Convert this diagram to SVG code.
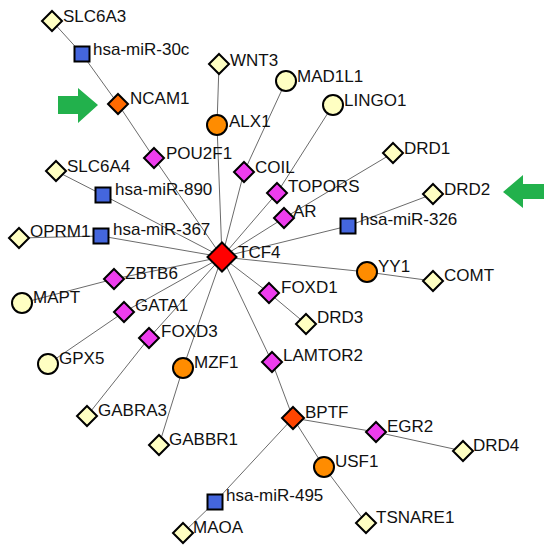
<svg xmlns="http://www.w3.org/2000/svg" xmlns:xlink="http://www.w3.org/1999/xlink" width="550" height="548" viewBox="0 0 550 548">
<style>
  .e { stroke: #6b6b6b; stroke-width: 1; fill: none; }
  .n { stroke: #000; stroke-width: 2; }
  .y { fill: #FFFFC2; }
  .m { fill: #EE3DEE; }
  .b { fill: #4466DD; }
  .o { fill: #FF8C00; }
  .t { font-family: "Liberation Sans", Arial, sans-serif; font-size: 17px; fill: #111; }
  .arrow { fill: #22B14C; }
</style>
<defs>
  <polygon id="dia" points="0,-10 10,0 0,10 -10,0"/>
  <rect id="sq" x="-7.5" y="-7.5" width="15" height="15"/>
  <circle id="cir" r="10"/>
</defs>
<rect width="550" height="548" fill="#fff"/>
<g id="connectors">
  <line class="e" x1="52" y1="21" x2="82" y2="54"/>
  <line class="e" x1="82" y1="54" x2="118" y2="104"/>
  <line class="e" x1="118" y1="104" x2="154" y2="158"/>
  <line class="e" x1="154" y1="158" x2="222" y2="257"/>
  <line class="e" x1="219" y1="64" x2="217" y2="125"/>
  <line class="e" x1="217" y1="125" x2="222" y2="257"/>
  <line class="e" x1="286" y1="81" x2="244" y2="172"/>
  <line class="e" x1="244" y1="172" x2="222" y2="257"/>
  <line class="e" x1="333" y1="105" x2="277" y2="193"/>
  <line class="e" x1="277" y1="193" x2="222" y2="257"/>
  <line class="e" x1="393" y1="153" x2="284" y2="218"/>
  <line class="e" x1="284" y1="218" x2="222" y2="257"/>
  <line class="e" x1="433" y1="194" x2="348" y2="226"/>
  <line class="e" x1="348" y1="226" x2="222" y2="257"/>
  <line class="e" x1="433" y1="281" x2="367" y2="272"/>
  <line class="e" x1="367" y1="272" x2="222" y2="257"/>
  <line class="e" x1="306" y1="324" x2="269" y2="293"/>
  <line class="e" x1="269" y1="293" x2="222" y2="257"/>
  <line class="e" x1="272" y1="362" x2="222" y2="257"/>
  <line class="e" x1="293" y1="418" x2="272" y2="362"/>
  <line class="e" x1="293" y1="418" x2="376" y2="432"/>
  <line class="e" x1="376" y1="432" x2="463" y2="451"/>
  <line class="e" x1="293" y1="418" x2="324" y2="467"/>
  <line class="e" x1="324" y1="467" x2="366" y2="523"/>
  <line class="e" x1="293" y1="418" x2="215" y2="502"/>
  <line class="e" x1="215" y1="502" x2="183" y2="533"/>
  <line class="e" x1="183" y1="368" x2="222" y2="257"/>
  <line class="e" x1="159" y1="445" x2="183" y2="368"/>
  <line class="e" x1="87" y1="416" x2="149" y2="338"/>
  <line class="e" x1="149" y1="338" x2="222" y2="257"/>
  <line class="e" x1="48" y1="364" x2="124" y2="312"/>
  <line class="e" x1="124" y1="312" x2="222" y2="257"/>
  <line class="e" x1="22" y1="303" x2="114" y2="279"/>
  <line class="e" x1="114" y1="279" x2="222" y2="257"/>
  <line class="e" x1="19" y1="238" x2="101" y2="236"/>
  <line class="e" x1="101" y1="236" x2="222" y2="257"/>
  <line class="e" x1="56" y1="171" x2="103" y2="195"/>
  <line class="e" x1="103" y1="195" x2="222" y2="257"/>
</g>
<g id="arrows">
  <polygon class="arrow" points="58,96 78,96 78,88 98,105 78,123 78,114 58,114"/>
  <polygon class="arrow" points="544,184 523,184 523,175 503,192 523,208 523,199 544,199"/>
</g>
<g id="SLC6A3"><use href="#dia" class="n y" x="52" y="21"/><text class="t" x="63" y="22">SLC6A3</text></g>
<g id="hsa-miR-30c"><use href="#sq" class="n b" x="82" y="54"/><text class="t" x="93" y="55">hsa-miR-30c</text></g>
<g id="NCAM1"><use href="#dia" class="n" fill="#FF6A00" x="118" y="104"/><text class="t" x="130" y="104">NCAM1</text></g>
<g id="WNT3"><use href="#dia" class="n y" x="219" y="64"/><text class="t" x="230" y="66">WNT3</text></g>
<g id="ALX1"><use href="#cir" class="n o" x="217" y="125"/><text class="t" x="229" y="127">ALX1</text></g>
<g id="MAD1L1"><use href="#cir" class="n y" x="286" y="81"/><text class="t" x="297" y="82">MAD1L1</text></g>
<g id="LINGO1"><use href="#cir" class="n y" x="333" y="105"/><text class="t" x="344" y="106">LINGO1</text></g>
<g id="POU2F1"><use href="#dia" class="n m" x="154" y="158"/><text class="t" x="166" y="159">POU2F1</text></g>
<g id="COIL"><use href="#dia" class="n m" x="244" y="172"/><text class="t" x="255" y="173">COIL</text></g>
<g id="DRD1"><use href="#dia" class="n y" x="393" y="153"/><text class="t" x="404" y="154">DRD1</text></g>
<g id="SLC6A4"><use href="#dia" class="n y" x="56" y="171"/><text class="t" x="67" y="172">SLC6A4</text></g>
<g id="TOPORS"><use href="#dia" class="n m" x="277" y="193"/><text class="t" x="288" y="192">TOPORS</text></g>
<g id="AR"><use href="#dia" class="n m" x="284" y="218"/><text class="t" x="293" y="217">AR</text></g>
<g id="DRD2"><use href="#dia" class="n y" x="433" y="194"/><text class="t" x="444" y="195">DRD2</text></g>
<g id="hsa-miR-890"><use href="#sq" class="n b" x="103" y="195"/><text class="t" x="115" y="195">hsa-miR-890</text></g>
<g id="hsa-miR-326"><use href="#sq" class="n b" x="348" y="226"/><text class="t" x="360" y="225">hsa-miR-326</text></g>
<g id="OPRM1"><use href="#dia" class="n y" x="19" y="238"/><text class="t" x="30" y="237">OPRM1</text></g>
<g id="hsa-miR-367"><use href="#sq" class="n b" x="101" y="236"/><text class="t" x="113" y="235">hsa-miR-367</text></g>
<g id="YY1"><use href="#cir" class="n o" x="367" y="272"/><text class="t" x="378" y="272">YY1</text></g>
<g id="COMT"><use href="#dia" class="n y" x="433" y="281"/><text class="t" x="444" y="281">COMT</text></g>
<g id="ZBTB6"><use href="#dia" class="n m" x="114" y="279"/><text class="t" x="125" y="279">ZBTB6</text></g>
<g id="FOXD1"><use href="#dia" class="n m" x="269" y="293"/><text class="t" x="281" y="293">FOXD1</text></g>
<g id="MAPT"><use href="#cir" class="n y" x="22" y="303"/><text class="t" x="33" y="303">MAPT</text></g>
<g id="GATA1"><use href="#dia" class="n m" x="124" y="312"/><text class="t" x="135" y="311">GATA1</text></g>
<g id="DRD3"><use href="#dia" class="n y" x="306" y="324"/><text class="t" x="317" y="323">DRD3</text></g>
<g id="FOXD3"><use href="#dia" class="n m" x="149" y="338"/><text class="t" x="161" y="337">FOXD3</text></g>
<g id="LAMTOR2"><use href="#dia" class="n m" x="272" y="362"/><text class="t" x="283" y="361">LAMTOR2</text></g>
<g id="GPX5"><use href="#cir" class="n y" x="48" y="364"/><text class="t" x="59" y="364">GPX5</text></g>
<g id="MZF1"><use href="#cir" class="n o" x="183" y="368"/><text class="t" x="194" y="368">MZF1</text></g>
<g id="GABRA3"><use href="#dia" class="n y" x="87" y="416"/><text class="t" x="98" y="416">GABRA3</text></g>
<g id="BPTF"><polygon class="n" fill="#FF4500" points="293,407 304,418 293,429 282,418"/><text class="t" x="305" y="418">BPTF</text></g>
<g id="EGR2"><use href="#dia" class="n m" x="376" y="432"/><text class="t" x="387" y="432">EGR2</text></g>
<g id="GABBR1"><use href="#dia" class="n y" x="159" y="445"/><text class="t" x="169" y="445">GABBR1</text></g>
<g id="DRD4"><use href="#dia" class="n y" x="463" y="451"/><text class="t" x="473" y="451">DRD4</text></g>
<g id="USF1"><use href="#cir" class="n o" x="324" y="467"/><text class="t" x="335" y="467">USF1</text></g>
<g id="hsa-miR-495"><use href="#sq" class="n b" x="215" y="502"/><text class="t" x="226" y="501">hsa-miR-495</text></g>
<g id="TSNARE1"><use href="#dia" class="n y" x="366" y="523"/><text class="t" x="376" y="523">TSNARE1</text></g>
<g id="MAOA"><use href="#dia" class="n y" x="183" y="533"/><text class="t" x="193" y="533">MAOA</text></g>
<g id="TCF4"><polygon class="n" fill="#FF0000" points="222,242.5 236.5,257 222,271.5 207.5,257"/><text class="t" x="238" y="258">TCF4</text></g>
</svg>
